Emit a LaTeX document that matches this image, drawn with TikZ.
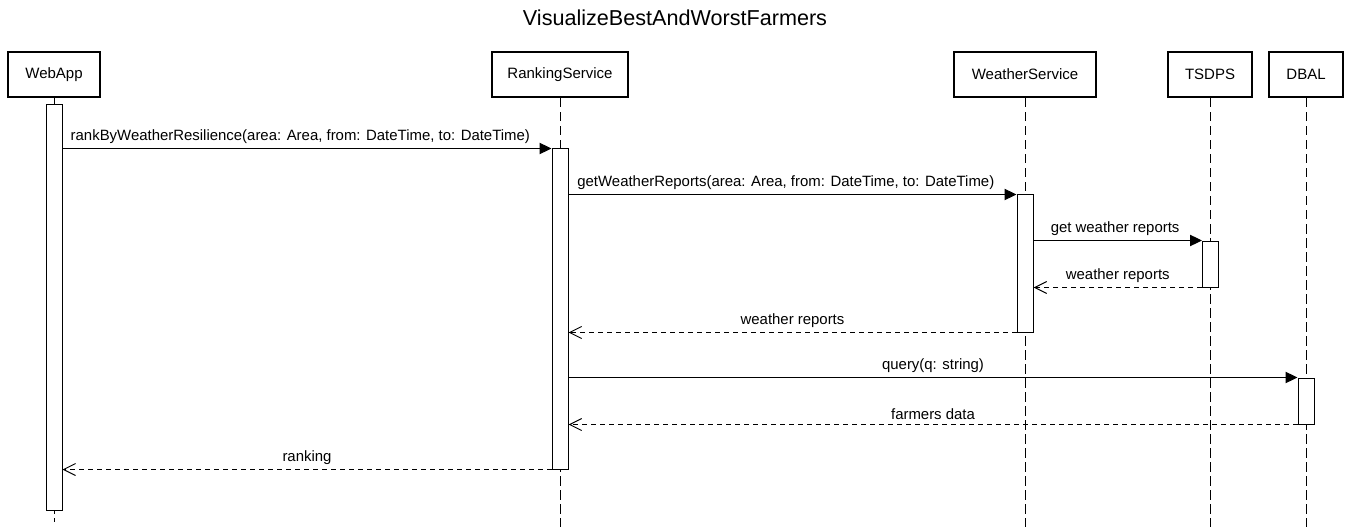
\documentclass[tikz,border=0pt]{standalone}
\usepackage{fontspec}
\setmainfont{Liberation Sans}
\usetikzlibrary{arrows.meta}
\begin{document}
\begin{tikzpicture}[x=0.75pt,y=-0.75pt,
  part/.style={draw,line width=1.5pt,fill=white,inner sep=0pt,minimum height=34pt,font=\fontsize{11.25}{13}\selectfont},
  life/.style={line width=0.75pt,dash pattern=on 7pt off 3.5pt},
  act/.style={draw,line width=0.75pt,fill=white,inner sep=0pt,minimum width=12pt},
  call/.style={line width=0.75pt,-{Triangle[length=9pt,width=8.5pt]}},
  reply/.style={line width=0.75pt,dash pattern=on 3.75pt off 3pt,-{Straight Barb[length=9pt,width=9pt]}},
  lbl/.style={font=\fontsize{11.2}{13}\selectfont,inner sep=0pt,anchor=south}
]
\useasboundingbox (0,0) rectangle (1351,527);
\node[font=\fontsize{16.2}{19}\selectfont] (title) at (675,18) {VisualizeBestAndWorstFarmers};

% participants
\node[part,minimum width=69pt] (web) at (54,74.5) {WebApp};
\node[part,minimum width=102pt] (rank) at (560,74.5) {RankingService};
\node[part,minimum width=107pt] (wea) at (1025,74.5) {WeatherService};
\node[part,minimum width=63pt] (ts) at (1210,74.5) {TSDPS};
\node[part,minimum width=56pt] (db) at (1306,74.5) {DBAL};

% lifeline ends
\coordinate (webE) at (54,522);
\coordinate (rankE) at (560,527);
\coordinate (weaE) at (1025,527);
\coordinate (tsE) at (1210,527);
\coordinate (dbE) at (1306,527);

\draw[life] (web.south) -- (webE);
\draw[life] (rank.south) -- (rankE);
\draw[life] (wea.south) -- (weaE);
\draw[life] (ts.south) -- (tsE);
\draw[life] (db.south) -- (dbE);

% activations
\node[act,minimum height=304.5pt] (aweb) at (54,307.5) {};
\node[act,minimum height=240pt] (arank) at (560,309) {};
\node[act,minimum height=102.75pt] (awea) at (1025,263.5) {};
\node[act,minimum height=34.5pt] (ats) at (1210.5,264) {};
\node[act,minimum height=34.5pt] (adb) at (1306,401) {};

% messages
\draw[call] (aweb.east |- arank.north) -- node[lbl,above=3.5pt,xshift=-5pt]{rankByWeatherResilience(area: Area, from: DateTime, to: DateTime)} (arank.north west);
\draw[call] (arank.east |- awea.north) -- node[lbl,above=3.5pt,xshift=-5pt]{getWeatherReports(area: Area, from: DateTime, to: DateTime)} (awea.north west);
\draw[call] (awea.east |- ats.north) -- node[lbl,above=3.5pt,xshift=-2pt]{get weather reports} (ats.north west);
\draw[reply] (ats.south west) -- node[lbl,above=3.5pt]{weather reports} (awea.east |- ats.south);
\draw[reply] (awea.south west) -- node[lbl,above=3.5pt]{weather reports} (arank.east |- awea.south);
\draw[call] (arank.east |- adb.north) -- node[lbl,above=3.5pt]{query(q: string)} (adb.north west);
\draw[reply] (adb.south west) -- node[lbl,above=3.5pt]{farmers data} (arank.east |- adb.south);
\draw[reply] (arank.south west) -- node[lbl,above=3.5pt]{ranking} (aweb.east |- arank.south);
\end{tikzpicture}
\end{document}
